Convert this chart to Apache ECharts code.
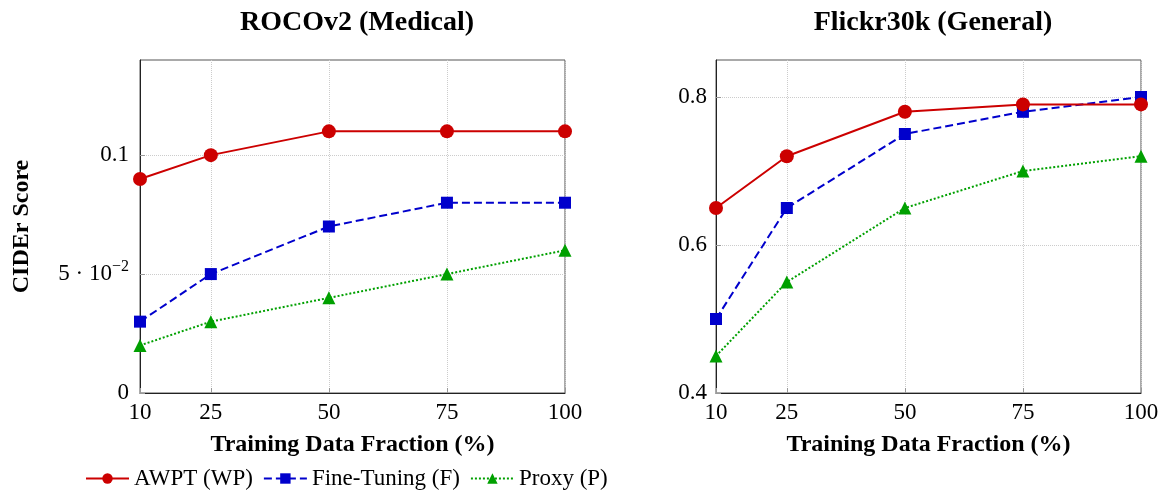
<!DOCTYPE html>
<html>
<head>
<meta charset="utf-8">
<script src="https://cdn.jsdelivr.net/npm/echarts@6/dist/echarts.min.js"></script>
<style>
  html, body { margin: 0; padding: 0; background: #fff; }
  #chart { width: 1163px; height: 492px; }
</style>
</head>
<body>
<div id="chart"></div>
<script>
var fractions = [10, 25, 50, 75, 100];
var xTicks = [10, 25, 50, 75, 100];

// ROCOv2 (Medical)
var rocoAwpt = [0.09, 0.10, 0.11, 0.11, 0.11];
var rocoFt = [0.03, 0.05, 0.07, 0.08, 0.08];
var rocoProxy = [0.02, 0.03, 0.04, 0.05, 0.06];
var rocoTicks = [0, 0.05, 0.1];

// Flickr30k (General)
var flickrAwpt = [0.65, 0.72, 0.78, 0.79, 0.79];
var flickrFt = [0.50, 0.65, 0.75, 0.78, 0.80];
var flickrProxy = [0.45, 0.55, 0.65, 0.70, 0.72];
var flickrTicks = [0.4, 0.6, 0.8];

var serif = '"Liberation Serif", "DejaVu Serif", serif';
var RED = '#cc0000', BLUE = '#0000cc', GREEN = '#00a000';

function pairs(vals) {
  return vals.map(function (v, i) { return [fractions[i], v]; });
}

function xAxisFor(idx) {
  return {
    type: 'value',
    gridIndex: idx,
    min: 10,
    max: 100,
    name: 'Training Data Fraction (%)',
    nameLocation: 'middle',
    nameGap: 40,
    nameTextStyle: { fontFamily: serif, fontWeight: 'bold', fontSize: 24, color: '#000' },
    axisLine: { show: true, lineStyle: { color: '#222', width: 1 } },
    axisTick: { show: true, inside: true, length: 5, customValues: xTicks, lineStyle: { color: '#999' } },
    axisLabel: { customValues: xTicks, fontFamily: serif, fontSize: 23, color: '#000', margin: 8 },
    splitLine: { show: true, lineStyle: { color: '#ccc', type: 'dotted', width: 1 } }
  };
}

function seriesFor(name, vals, idx, color, symbol, size, lineType) {
  return {
    name: name,
    type: 'line',
    xAxisIndex: idx,
    yAxisIndex: idx,
    data: pairs(vals),
    symbol: symbol,
    symbolSize: size,
    color: color,
    lineStyle: { color: color, width: 2, type: lineType },
    itemStyle: { color: color },
    z: name === 'AWPT (WP)' ? 3 : 2
  };
}

var option = {
  backgroundColor: '#fff',
  animation: false,
  title: [
    { text: 'ROCOv2 (Medical)', left: 352, top: 4, textAlign: 'center',
      textStyle: { fontFamily: serif, fontWeight: 'bold', fontSize: 28, color: '#000' } },
    { text: 'Flickr30k (General)', left: 928, top: 4, textAlign: 'center',
      textStyle: { fontFamily: serif, fontWeight: 'bold', fontSize: 28, color: '#000' } }
  ],
  legend: {
    left: 80,
    top: 462,
    itemWidth: 43,
    itemHeight: 13,
    itemGap: 10,
    textStyle: { fontFamily: serif, fontSize: 23, color: '#000' },
    data: ['AWPT (WP)', 'Fine-Tuning (F)', 'Proxy (P)']
  },
  grid: [
    { left: 140, right: 598, top: 60, bottom: 99, show: true, borderColor: '#555', borderWidth: 1 },
    { left: 716, right: 22, top: 60, bottom: 99, show: true, borderColor: '#555', borderWidth: 1 }
  ],
  xAxis: [xAxisFor(0), xAxisFor(1)],
  yAxis: [
    {
      type: 'value',
      gridIndex: 0,
      min: 0,
      max: 0.14,
      name: 'CIDEr Score',
      nameLocation: 'middle',
      nameRotate: 90,
      nameGap: 106,
      nameTextStyle: { fontFamily: serif, fontWeight: 'bold', fontSize: 24, color: '#000' },
      axisLine: { show: true, lineStyle: { color: '#222', width: 1 } },
      axisTick: { show: true, inside: true, length: 5, customValues: rocoTicks, lineStyle: { color: '#999' } },
      axisLabel: {
        customValues: rocoTicks,
        fontFamily: serif, fontSize: 23, color: '#000', margin: 11,
        formatter: function (v) {
          if (Math.abs(v - 0.05) < 1e-9) return '{n|5 · 10}{s|−2}';
          if (v === 0) return '0';
          return '' + Math.round(v * 100) / 100;
        },
        rich: {
          n: { fontFamily: serif, fontSize: 23, color: '#000' },
          s: { fontFamily: serif, fontSize: 16, color: '#000', padding: [0, 0, 14, 0] }
        }
      },
      splitLine: { show: true, lineStyle: { color: '#ccc', type: 'dotted', width: 1 } }
    },
    {
      type: 'value',
      gridIndex: 1,
      min: 0.4,
      max: 0.85,
      axisLine: { show: true, lineStyle: { color: '#222', width: 1 } },
      axisTick: { show: true, inside: true, length: 5, customValues: flickrTicks, lineStyle: { color: '#999' } },
      axisLabel: {
        customValues: flickrTicks,
        fontFamily: serif, fontSize: 23, color: '#000', margin: 9,
        formatter: function (v) { return v.toFixed(1); }
      },
      splitLine: { show: true, lineStyle: { color: '#ccc', type: 'dotted', width: 1 } }
    }
  ],
  series: [
    seriesFor('AWPT (WP)', rocoAwpt, 0, RED, 'circle', 14, 'solid'),
    seriesFor('Fine-Tuning (F)', rocoFt, 0, BLUE, 'rect', 12, 'dashed'),
    seriesFor('Proxy (P)', rocoProxy, 0, GREEN, 'triangle', 13, 'dotted'),
    seriesFor('AWPT (WP)', flickrAwpt, 1, RED, 'circle', 14, 'solid'),
    seriesFor('Fine-Tuning (F)', flickrFt, 1, BLUE, 'rect', 12, 'dashed'),
    seriesFor('Proxy (P)', flickrProxy, 1, GREEN, 'triangle', 13, 'dotted')
  ]
};

var myChart = echarts.init(document.getElementById('chart'));
myChart.setOption(option);
window.addEventListener('resize', function () {
  myChart.resize();
});
</script>
</body>
</html>
